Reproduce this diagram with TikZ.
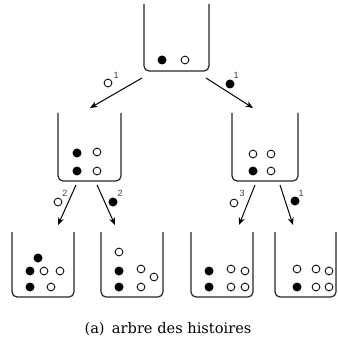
\documentclass[tikz,border=0pt]{standalone}
\usepackage{fontspec}
\setmainfont{DejaVu Serif}
\setsansfont{Liberation Sans}
\usetikzlibrary{arrows.meta}
\begin{document}
\begin{tikzpicture}[x=1pt,y=-1pt,
  cont/.style={rectangle, inner sep=0, outer sep=0, draw=none},
  wall/.style={line width=1.2pt, rounded corners=5pt, draw=black!85},
  bk/.style={circle, fill=black, inner sep=0, minimum size=9pt},
  wh/.style={circle, draw=black, line width=0.85pt, inner sep=0, minimum size=7.8pt},
  arr/.style={-{Stealth[length=7.5pt,width=6pt]}, line width=1pt},
  sup/.style={font=\sffamily\fontsize{9}{10}\selectfont, text=black!75, inner sep=0},
  captext/.style={font=\fontsize{14.6}{17}\selectfont, inner sep=0, anchor=base}]
\useasboundingbox (0,0) rectangle (337,344);
% containers
\node[cont, minimum width=65pt, minimum height=67pt] (c0) at (176.5,37.5) {};
\node[cont, minimum width=63pt, minimum height=68pt] (m1) at (89.5,147) {};
\node[cont, minimum width=66pt, minimum height=68pt] (m2) at (265,147) {};
\node[cont, minimum width=62pt, minimum height=65pt] (b1) at (43,264.5) {};
\node[cont, minimum width=62pt, minimum height=65pt] (b2) at (132,264.5) {};
\node[cont, minimum width=62pt, minimum height=65pt] (b3) at (222,264.5) {};
\node[cont, minimum width=61pt, minimum height=65pt] (b4) at (305.5,264.5) {};
\foreach \c in {c0,m1,m2,b1,b2,b3,b4}
  \draw[wall] (\c.north west) -- (\c.south west) -- (\c.south east) -- (\c.north east);
% balls top
\node[bk] (t1) at (162,60) {};
\node[wh] (t2) at (185,60) {};
% middle left
\node[bk] (p1) at (77,153) {};
\node[wh] (p2) at (97,152) {};
\node[bk] (p3) at (77,171) {};
\node[wh] (p4) at (97,171) {};
% middle right
\node[wh] (q1) at (253,154) {};
\node[wh] (q2) at (271,154) {};
\node[bk] (q3) at (253,171) {};
\node[wh] (q4) at (271,171) {};
% bottom 1
\node[bk] (r1) at (38,258) {};
\node[bk] (r2) at (30,271) {};
\node[wh] (r3) at (44,271) {};
\node[wh] (r4) at (60,271) {};
\node[bk] (r5) at (30,287) {};
\node[wh] (r6) at (51,287) {};
% bottom 2
\node[wh] (s1) at (119,252) {};
\node[bk] (s2) at (119,271) {};
\node[wh] (s3) at (141,269) {};
\node[wh] (s4) at (154,277) {};
\node[bk] (s5) at (119,287) {};
\node[wh] (s6) at (141,287) {};
% bottom 3
\node[bk] (u1) at (209,271) {};
\node[wh] (u2) at (231,269) {};
\node[wh] (u3) at (245,271) {};
\node[bk] (u4) at (209,287) {};
\node[wh] (u5) at (231,287) {};
\node[wh] (u6) at (245,287) {};
% bottom 4
\node[wh] (v1) at (297,269) {};
\node[wh] (v2) at (316,269) {};
\node[wh] (v3) at (329,271) {};
\node[bk] (v4) at (297,287) {};
\node[wh] (v5) at (316,287) {};
\node[wh] (v6) at (329,287) {};
% arrow ends
\coordinate (a1s) at (142,78);  \coordinate (a1e) at (90,108);
\coordinate (a2s) at (206,78);  \coordinate (a2e) at (253,108);
\coordinate (a3s) at (76,185);  \coordinate (a3e) at (58,225);
\coordinate (a4s) at (97,185);  \coordinate (a4e) at (115,225);
\coordinate (a5s) at (255,185); \coordinate (a5e) at (239,225);
\coordinate (a6s) at (280,185); \coordinate (a6e) at (293,225);
\foreach \i in {1,...,6} \draw[arr] (a\i s) -- (a\i e);
% labels
\node[wh] (l1) at (108,83) {};  \node[sup] (k1) at (116,75) {1};
\node[bk] (l2) at (230,84) {};  \node[sup] (k2) at (236,75) {1};
\node[wh] (l3) at (58,202) {};  \node[sup] (k3) at (65,193) {2};
\node[bk] (l4) at (113,202) {}; \node[sup] (k4) at (120,193) {2};
\node[wh] (l5) at (234,203) {}; \node[sup] (k5) at (242,193) {3};
\node[bk] (l6) at (295,201) {}; \node[sup] (k6) at (301,193) {1};
% caption
\node[captext] (captn) at (168,333) {(a)\enspace arbre des histoires};
\end{tikzpicture}
\end{document}
